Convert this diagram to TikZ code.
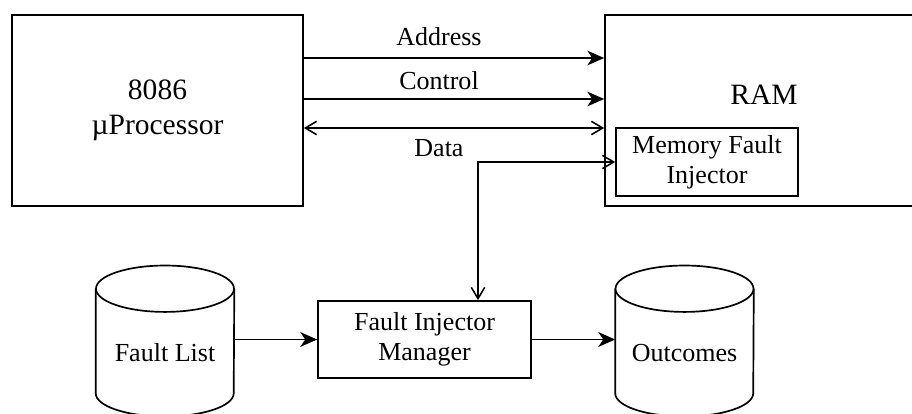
\documentclass[tikz,border=0pt]{standalone}
\usepackage{fontspec}
\setmainfont{Liberation Serif}
\usetikzlibrary{arrows.meta}

\begin{document}
\begin{tikzpicture}[
    block/.style={draw, line width=1.2pt, inner sep=0pt, align=center},
    store/.style={minimum width=3.45cm, minimum height=2.6cm, inner sep=0pt},
    bus/.style={line width=1.1pt, -{Stealth[length=12pt, width=10.5pt, inset=3.5pt]}},
    bibus/.style={line width=1.1pt, {Straight Barb[length=8pt, width=9.5pt]}-{Straight Barb[length=8pt, width=9.5pt]}},
    small/.style={font=\fontsize{18.5}{21.5}\selectfont},
    large/.style={font=\fontsize{21}{25}\selectfont}
  ]
  \useasboundingbox (0, 0) rectangle (22.8, 10.325);
  \clip (0, 0) rectangle (22.8, 10.325);

  % processor and memory
  \node[block, large, minimum width=7.275cm, minimum height=4.775cm] (proc) at (3.9375, 7.5625) {8086\\µProcessor};
  \node[block, minimum width=7.95cm, minimum height=4.775cm] (ram) at (19.1, 7.5625) {};
  \node[large] (ramtext) at (19.1, 7.95) {RAM};
  \node[block, small, minimum width=4.55cm, minimum height=1.7cm] (mfi) at (17.675, 6.275) {Memory Fault\\Injector};

  % buses
  \draw[bus] ([yshift=1.3125cm]proc.east) -- ([yshift=1.3125cm]ram.west)
    node[pos=0.45, yshift=0.525cm, small] (addr) {Address};
  \draw[bus] ([yshift=0.2875cm]proc.east) -- ([yshift=0.2875cm]ram.west)
    node[pos=0.45, yshift=0.45cm, small] (ctrl) {Control};
  \draw[bibus] ([yshift=-0.4375cm]proc.east) -- ([yshift=-0.4375cm]ram.west)
    node[pos=0.45, yshift=-0.5125cm, small] (data) {Data};

  % fault injection
  \node[store] (flist) at (4.125, 1.8) {};
  \node[small] (flisttext) at (4.125, 1.5) {Fault List};
  \node[block, small, minimum width=5.325cm, minimum height=1.925cm] (mgr) at (10.6125, 1.8375) {Fault Injector\\Manager};
  \node[store] (outc) at (17.1125, 1.8) {};
  \node[small] (outctext) at (17.1125, 1.5) {Outcomes};

  % drum outlines
  \foreach \d in {flist, outc} {
    \draw[line width=1.2pt] (\d.north west) -- (\d.south west)
      arc[start angle=180, end angle=360, x radius=1.725cm, y radius=0.58cm]
      -- (\d.north east);
    \draw[line width=1.2pt] (\d.north) ellipse [x radius=1.725cm, y radius=0.58cm];
  }

  \draw[bibus] (mfi.west) -| ([xshift=1.3375cm]mgr.north);
  \draw[bus] (mgr.west -| flist.east) -- (mgr.west);
  \draw[bus] (mgr.east) -- (mgr.east -| outc.west);
\end{tikzpicture}
\end{document}
